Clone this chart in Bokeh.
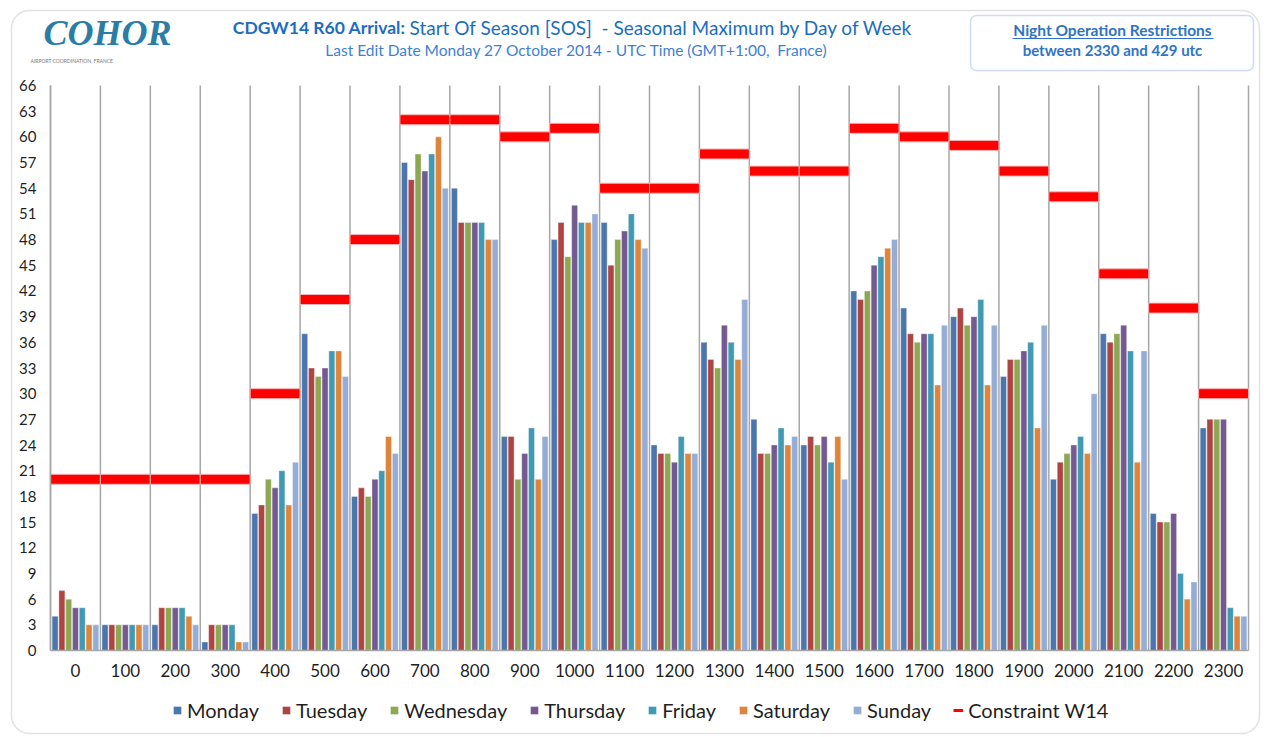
from bokeh.plotting import figure
from bokeh.models import (ColumnDataSource, FixedTicker, Label, BoxAnnotation,
                          Legend, LegendItem, Range1d)
from bokeh.transform import dodge
from bokeh.embed import file_html
from bokeh.resources import INLINE

# ---------------- data ----------------
hours = ["0", "100", "200", "300", "400", "500", "600", "700", "800", "900",
         "1000", "1100", "1200", "1300", "1400", "1500", "1600", "1700",
         "1800", "1900", "2000", "2100", "2200", "2300"]

monday    = [4, 3, 3, 1, 16, 37, 18, 57, 54, 25, 48, 50, 24, 36, 27, 24, 42, 40, 39, 32, 20, 37, 16, 26]
tuesday   = [7, 3, 5, 3, 17, 33, 19, 55, 50, 25, 50, 45, 23, 34, 23, 25, 41, 37, 40, 34, 22, 36, 15, 27]
wednesday = [6, 3, 5, 3, 20, 32, 18, 58, 50, 20, 46, 48, 23, 33, 23, 24, 42, 36, 38, 34, 23, 37, 15, 27]
thursday  = [5, 3, 5, 3, 19, 33, 20, 56, 50, 23, 52, 49, 22, 38, 24, 25, 45, 37, 39, 35, 24, 38, 16, 27]
friday    = [5, 3, 5, 3, 21, 35, 21, 58, 50, 26, 50, 51, 25, 36, 26, 22, 46, 37, 41, 36, 25, 35, 9, 5]
saturday  = [3, 3, 4, 1, 17, 35, 25, 60, 48, 20, 50, 48, 23, 34, 24, 25, 47, 31, 31, 26, 23, 22, 6, 4]
sunday    = [3, 3, 3, 1, 22, 32, 23, 54, 48, 25, 51, 47, 23, 41, 25, 20, 48, 38, 38, 38, 30, 35, 8, 4]
constraint_w14 = [20, 20, 20, 20, 30, 41, 48, 62, 62, 60, 61, 54, 54, 58, 56, 56, 61, 60, 59, 56, 53, 44, 40, 30]

days = ["Monday", "Tuesday", "Wednesday", "Thursday", "Friday", "Saturday", "Sunday"]
series = [monday, tuesday, wednesday, thursday, friday, saturday, sunday]
colors = ["#4A76AD", "#AE4543", "#8CA852", "#755A92", "#4299B2", "#DE853B", "#95ADD6"]
y_ticks = list(range(0, 67, 3))
Y_MAX = 66

# ---------------- layout constants (pixels) ----------------
W, H = 1262, 736
PX_LEFT, PX_RIGHT = 50, 1248     # x of category axis start / end
PX_TOP, PX_BOTTOM = 85, 650      # y of value 66 / value 0
n = len(hours)
ux = n / (PX_RIGHT - PX_LEFT)
uy = Y_MAX / (PX_BOTTOM - PX_TOP)
x_range = Range1d(-PX_LEFT * ux, n + (W - PX_RIGHT) * ux)
y_range = Range1d(-(H - PX_BOTTOM) * uy, Y_MAX + PX_TOP * uy)

# ---------------- source ----------------
xc = [i + 0.5 for i in range(n)]
data = dict(xc=xc, hour=hours, constraint=constraint_w14)
for d, s in zip(days, series):
    data[d] = s
src = ColumnDataSource(data)
bounds_src = ColumnDataSource(dict(bx=list(range(n + 1)),
                                   y0=[0] * (n + 1), y1=[Y_MAX] * (n + 1)))

FONT = "Lato"
TITLE_BLUE = "#1C6DBF"
SUB_BLUE = "#3F7FD2"
BOX_BLUE = "#2F74C4"
GRID = "#A6A6A6"
NB = "\u00a0"

p = figure(width=W, height=H, x_range=x_range, y_range=y_range,
           output_backend="svg", toolbar_location=None,
           min_border_left=0, min_border_right=0, min_border_top=0, min_border_bottom=0)
p.outline_line_color = None
p.background_fill_color = "white"
p.border_fill_color = "white"
p.xgrid.grid_line_color = None
p.ygrid.grid_line_color = None

# vertical separators between hour categories
p.segment(x0="bx", y0="y0", x1="bx", y1="y1", source=bounds_src,
          line_color=GRID, line_width=1.5)

# bars
step = 0.136
bw = 0.12
items = []
for j, d in enumerate(days):
    r = p.vbar(x=dodge("xc", (j - 3) * step), top=d, width=bw, source=src,
               fill_color=colors[j], line_color="white", line_alpha=0.6, line_width=0.6)
    items.append(LegendItem(label=d, renderers=[r]))

# constraint
p.rect(x="xc", y="constraint", width=1, height=10, height_units="screen", source=src,
       fill_color="#FF0000", line_color="#F1B5B5", line_width=1)
cl = p.segment(x0=dodge("xc", -0.45), y0="constraint", x1=dodge("xc", 0.45), y1="constraint",
               source=src, line_color="#FF0000", line_width=3)
items.append(LegendItem(label="Constraint W14", renderers=[cl]))

# axes (fixed inside the frame)
p.xaxis.fixed_location = 0
p.yaxis.fixed_location = 0
p.xaxis.bounds = (0, n)
p.yaxis.bounds = (0, Y_MAX)
p.xaxis.ticker = FixedTicker(ticks=xc)
p.xaxis.major_label_overrides = {x: h for x, h in zip(xc, hours)}
p.yaxis.ticker = FixedTicker(ticks=y_ticks)
for ax in (p.xaxis[0], p.yaxis[0]):
    ax.major_tick_out = 0
    ax.major_tick_in = 0
    ax.minor_tick_line_color = None
    ax.axis_line_color = GRID
    ax.axis_line_width = 1.5
    ax.major_label_text_font = FONT
    ax.major_label_text_color = "#1F1F1F"
p.xaxis.major_label_text_font_size = "17px"
p.yaxis.major_label_text_font_size = "15px"
p.xaxis.major_label_standoff = 13
p.yaxis.major_label_standoff = 14

legend = Legend(items=items, orientation="horizontal", location=(172, 14),
                label_text_font=FONT, label_text_font_size="20px", label_text_color="#1F1F1F",
                glyph_width=10, glyph_height=10, spacing=22, label_standoff=5,
                border_line_color=None, padding=0, margin=0, background_fill_alpha=0)
p.add_layout(legend)


def sy(y_page):
    return H - y_page


# outer rounded frame
p.add_layout(BoxAnnotation(left=11, right=1259, top=sy(10), bottom=sy(733),
                           left_units="screen", right_units="screen",
                           top_units="screen", bottom_units="screen",
                           fill_alpha=0, line_color="#A0A0A0", line_width=1.5,
                           border_radius=18))

# logo
p.add_layout(Label(x=43, y=sy(32), x_units="screen", y_units="screen", text="COHOR",
                   text_font="Liberation Serif", text_font_style="bold italic",
                   text_font_size="36px", text_color="#2B7DA6", text_baseline="middle"))
p.add_layout(Label(x=30, y=sy(60), x_units="screen", y_units="screen",
                   text="AIRPORT COORDINATION, FRANCE", text_font=FONT,
                   text_font_size="5px", text_color="#777777", text_baseline="middle"))

# titles
p.add_layout(Label(x=405, y=sy(27), x_units="screen", y_units="screen",
                   text="CDGW14 R60 Arrival:", text_font=FONT, text_font_style="bold",
                   text_font_size="17.5px", text_color=TITLE_BLUE, text_align="right",
                   text_baseline="middle"))
p.add_layout(Label(x=409, y=sy(27), x_units="screen", y_units="screen",
                   text="Start Of Season [SOS]" + NB + NB + "- Seasonal Maximum by Day of Week",
                   text_font=FONT, text_font_size="19px", text_color=TITLE_BLUE,
                   text_align="left", text_baseline="middle"))
p.add_layout(Label(x=576, y=sy(49), x_units="screen", y_units="screen",
                   text="Last Edit Date Monday 27 October 2014 - UTC Time (GMT+1:00," + NB + NB + "France)",
                   text_font=FONT, text_font_size="15.5px", text_color=SUB_BLUE,
                   text_align="center", text_baseline="middle"))

# night restriction box
p.add_layout(BoxAnnotation(left=970, right=1253, top=sy(15), bottom=sy(70),
                           left_units="screen", right_units="screen",
                           top_units="screen", bottom_units="screen",
                           fill_color="white", fill_alpha=1, line_color="#5B8DD6",
                           line_width=1.5, border_radius=6))
p.add_layout(Label(x=1112, y=sy(29), x_units="screen", y_units="screen",
                   text="Night Operation Restrictions", text_font=FONT,
                   text_font_style="bold", text_font_size="15.5px", text_color=BOX_BLUE,
                   text_align="center", text_baseline="middle"))
p.add_layout(BoxAnnotation(left=1012, right=1213, top=sy(37.5), bottom=sy(38.5),
                           left_units="screen", right_units="screen",
                           top_units="screen", bottom_units="screen",
                           fill_color=BOX_BLUE, fill_alpha=1, line_color=None))
p.add_layout(Label(x=1112, y=sy(49), x_units="screen", y_units="screen",
                   text="between 2330 and 429 utc", text_font=FONT,
                   text_font_style="bold", text_font_size="15px", text_color=BOX_BLUE,
                   text_align="center", text_baseline="middle"))

open("out.html", "w").write(file_html(p, INLINE))
